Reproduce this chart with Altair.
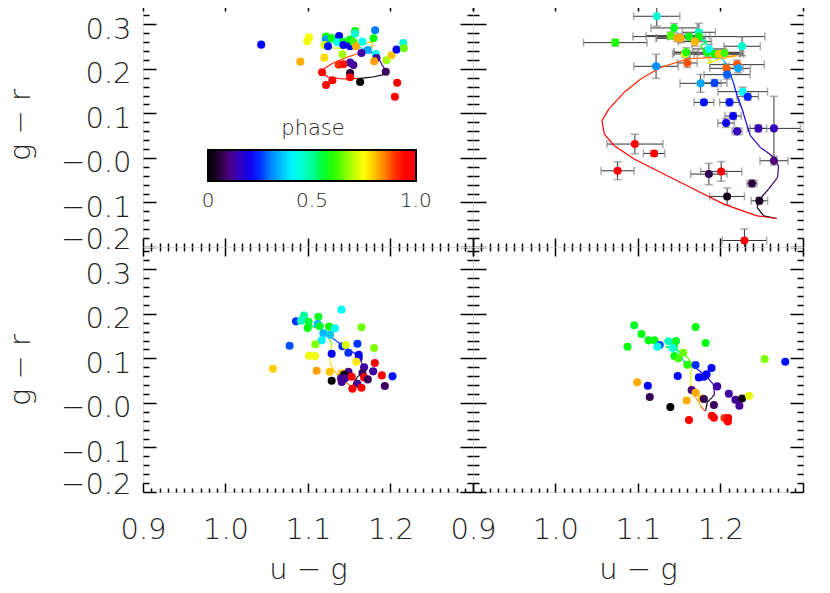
import altair as alt
import pandas as pd

# ---------------- data ----------------
# top-left panel (u-g, g-r, phase)
tl_x = [1.0433, 1.1012, 1.0992, 1.0907, 1.1219, 1.1219, 1.1287, 1.1377, 1.1202, 1.1243, 1.1356, 1.1429,
        1.1429, 1.1510, 1.1510, 1.1571, 1.1571, 1.1550, 1.1583, 1.1660, 1.1814, 1.1794, 1.1725, 1.1648,
        1.1822, 1.1830, 1.1802, 1.1417, 1.1198, 1.1510, 1.1550, 1.1372, 1.1429, 1.1170, 1.1510, 1.1510,
        1.1296, 1.1219, 1.1632, 1.1943, 1.1951, 1.2012, 1.2073, 1.2154, 1.2162, 1.2081, 1.2053]
tl_y = [0.2543, 0.2708, 0.2618, 0.2161, 0.2723, 0.2655, 0.2693, 0.2738, 0.2536, 0.2506, 0.2596, 0.2610,
        0.2536, 0.2655, 0.2506, 0.2850, 0.2790, 0.2600, 0.2506, 0.2610, 0.2865, 0.2685, 0.2423, 0.2356,
        0.2333, 0.2243, 0.2169, 0.2326, 0.2251, 0.2139, 0.2086, 0.2094, 0.2101, 0.1921, 0.1906, 0.1809,
        0.1742, 0.1637, 0.1704, 0.1936, 0.2191, 0.2303, 0.2431, 0.2581, 0.2461, 0.1689, 0.1375]
tl_ph = [0.22, 0.75, 0.74, 0.82, 0.58, 0.32, 0.57, 0.22, 0.72, 0.23, 0.42, 0.55,
         0.22, 0.58, 0.22, 0.58, 0.45, 0.62, 0.82, 0.42, 0.30, 0.57, 0.33, 0.13,
         0.42, 0.12, 0.83, 0.68, 0.78, 0.13, 0.12, 0.90, 0.92, 0.95, 0.05, 0.95,
         0.95, 0.95, 0.00, 0.08, 0.68, 0.80, 0.22, 0.45, 0.65, 0.95, 0.95]

tl_cx = [1.1628, 1.1789, 1.1931, 1.1951, 1.1903, 1.1862, 1.1810, 1.1749, 1.1700, 1.1648, 1.1587, 1.1547,
         1.1385, 1.1243, 1.1202, 1.1283, 1.1425, 1.1547, 1.1668, 1.1769, 1.1789, 1.1749, 1.1628, 1.1466,
         1.1304, 1.1202, 1.1174, 1.1243, 1.1425, 1.1628]
tl_cy = [0.1787, 0.1816, 0.1876, 0.1936, 0.2071, 0.2221, 0.2311, 0.2386, 0.2431, 0.2461, 0.2536, 0.2581,
         0.2610, 0.2596, 0.2521, 0.2468, 0.2461, 0.2506, 0.2558, 0.2610, 0.2521, 0.2431, 0.2356, 0.2258,
         0.2131, 0.2011, 0.1906, 0.1816, 0.1772, 0.1787]
tl_cph = [0.00, 0.04, 0.08, 0.10, 0.12, 0.15, 0.20, 0.27, 0.35, 0.42, 0.48, 0.52,
          0.56, 0.60, 0.66, 0.70, 0.73, 0.76, 0.79, 0.81, 0.83, 0.85, 0.87, 0.89,
          0.91, 0.93, 0.95, 0.97, 0.985, 1.00]

# top-right panel with error bars
tr_x = [1.1227, 1.1437, 1.1396, 1.1477, 1.1517, 1.1618, 1.1738, 1.1738, 1.1690, 1.0724, 1.2262, 1.1569,
        1.1586, 1.1839, 1.1859, 1.1932, 1.1980, 1.2048, 1.1598, 1.1219, 1.2072, 1.2201, 1.2213, 1.2080,
        1.1759, 1.1928, 1.2270, 1.2330, 1.1799, 1.2109, 1.2153, 1.2068, 1.2201, 1.2459, 1.2648, 1.2648,
        1.0962, 1.1195, 1.0753, 1.1859, 1.2008, 1.2382, 1.2080, 1.2471, 1.2290]
tr_y = [0.3180, 0.2918, 0.2745, 0.2693, 0.2685, 0.2723, 0.2820, 0.2723, 0.2610, 0.2588, 0.2506, 0.2333,
        0.2371, 0.2371, 0.2446, 0.2333, 0.2333, 0.2356, 0.2131, 0.2056, 0.2011, 0.2094, 0.2011, 0.1869,
        0.1674, 0.1682, 0.1487, 0.1375, 0.1247, 0.1247, 0.0940, 0.0783, 0.0596, 0.0663, 0.0663, -0.0064,
        0.0311, 0.0101, -0.0289, -0.0363, -0.0303, -0.0573, -0.0865, -0.0963, -0.1854]
tr_xerr = [0.028, 0.028, 0.030, 0.025, 0.030, 0.025, 0.020, 0.080, 0.020, 0.0385, 0.022, 0.015,
           0.015, 0.040, 0.020, 0.030, 0.030, 0.020, 0.012, 0.027, 0.020, 0.033, 0.015, 0.028,
           0.025, 0.015, 0.030, 0.013, 0.012, 0.012, 0.010, 0.010, 0.006, 0.010, 0.032, 0.017,
           0.034, 0.013, 0.020, 0.022, 0.025, 0.006, 0.021, 0.010, 0.027]
tr_yerr = [0.022, 0.010, 0.008, 0.008, 0.010, 0.008, 0.020, 0.010, 0.010, 0.0075, 0.021, 0.007,
           0.010, 0.010, 0.010, 0.008, 0.010, 0.008, 0.010, 0.027, 0.010, 0.010, 0.010, 0.010,
           0.020, 0.008, 0.010, 0.008, 0.006, 0.008, 0.008, 0.010, 0.008, 0.008, 0.072, 0.010,
           0.022, 0.006, 0.020, 0.024, 0.022, 0.008, 0.019, 0.008, 0.026]
tr_ph = [0.45, 0.56, 0.63, 0.82, 0.82, 0.57, 0.46, 0.57, 0.81, 0.60, 0.45, 0.72,
         0.60, 0.58, 0.42, 0.58, 0.80, 0.62, 0.88, 0.31, 0.87, 0.88, 0.33, 0.28,
         0.33, 0.26, 0.42, 0.24, 0.23, 0.23, 0.21, 0.20, 0.15, 0.14, 0.15, 0.10,
         0.95, 0.94, 0.95, 0.07, 0.95, 0.06, 0.03, 0.04, 0.96]

tr_cx = [1.2684, 1.2523, 1.2443, 1.2475, 1.2583, 1.2692, 1.2704, 1.2624, 1.2483, 1.2362, 1.2322, 1.2262,
         1.2201, 1.2161, 1.2121, 1.2089, 1.2040, 1.1980, 1.1899, 1.1799, 1.1759, 1.1839, 1.1759, 1.1799,
         1.1839, 1.1899, 1.1839, 1.2000, 1.2201, 1.1919, 1.1598, 1.1276, 1.1034, 1.0833, 1.0652, 1.0563,
         1.0592, 1.0712, 1.0954, 1.1276, 1.1638, 1.2040, 1.2443, 1.2684]
tr_cy = [-0.1360, -0.1300, -0.1112, -0.0925, -0.0700, -0.0438, -0.0176, 0.0049, 0.0236, 0.0498, 0.0723, 0.1097,
         0.1397, 0.1659, 0.1884, 0.2034, 0.2184, 0.2296, 0.2446, 0.2610, 0.2685, 0.2610, 0.2521, 0.2371,
         0.2258, 0.2146, 0.2124, 0.2221, 0.2296, 0.2258, 0.2221, 0.2034, 0.1772, 0.1472, 0.1112, 0.0835,
         0.0536, 0.0273, -0.0026, -0.0326, -0.0663, -0.1037, -0.1300, -0.1360]
tr_cph = [0.00, 0.02, 0.04, 0.06, 0.08, 0.10, 0.12, 0.13, 0.15, 0.17, 0.19, 0.21,
          0.23, 0.25, 0.28, 0.32, 0.36, 0.40, 0.44, 0.48, 0.52, 0.56, 0.60, 0.64,
          0.68, 0.72, 0.76, 0.80, 0.84, 0.86, 0.88, 0.90, 0.91, 0.92, 0.93, 0.94,
          0.95, 0.96, 0.97, 0.98, 0.985, 0.99, 0.995, 1.00]

# bottom-left panel
bl_x = [1.1405, 1.0951, 1.0854, 1.0915, 1.1008, 1.1126, 1.1117, 1.1142, 1.0996, 1.1255, 1.1328, 1.1648,
        1.1186, 1.1267, 1.1166, 1.1089, 1.0777, 1.1599, 1.1417, 1.1457, 1.1802, 1.1490, 1.1287, 1.1615,
        1.1615, 1.1012, 1.1085, 1.1587, 1.1680, 1.1810, 1.0575, 1.1105, 1.1263, 1.1409, 1.1490, 1.1437,
        1.1660, 1.1790, 1.1895, 1.2024, 1.1401, 1.1449, 1.1530, 1.1680, 1.1725, 1.1287, 1.1409, 1.1599,
        1.1538, 1.1648, 1.1931]
bl_y = [0.2094, 0.1959, 0.1831, 0.1846, 0.1824, 0.1936, 0.1772, 0.1719, 0.1682, 0.1712, 0.1674, 0.1697,
        0.1562, 0.1532, 0.1404, 0.1315, 0.1285, 0.1330, 0.1270, 0.1300, 0.1232, 0.1127, 0.1105, 0.1082,
        0.1000, 0.1060, 0.1052, 0.0925, 0.0798, 0.0895, 0.0768, 0.0723, 0.0700, 0.0663, 0.0700, 0.0633,
        0.0670, 0.0708, 0.0618, 0.0596, 0.0551, 0.0551, 0.0588, 0.0573, 0.0528, 0.0498, 0.0468, 0.0431,
        0.0318, 0.0341, 0.0378]
bl_ph = [0.42, 0.50, 0.25, 0.47, 0.55, 0.56, 0.35, 0.56, 0.57, 0.58, 0.42, 0.65,
         0.35, 0.36, 0.40, 0.66, 0.27, 0.25, 0.25, 0.72, 0.66, 0.25, 0.22, 0.22,
         0.20, 0.74, 0.74, 0.77, 0.13, 0.94, 0.79, 0.83, 0.80, 0.80, 0.10, 0.00,
         0.08, 0.13, 0.95, 0.23, 0.12, 0.12, 0.93, 0.95, 0.08, 0.00, 0.12, 0.12,
         0.95, 0.95, 0.08]

bl_cx = [1.1547, 1.1595, 1.1648, 1.1668, 1.1648, 1.1607, 1.1486, 1.1364, 1.1283, 1.1202, 1.1101, 1.1000,
         1.1061, 1.1162, 1.1243, 1.1287, 1.1263, 1.1271, 1.1344, 1.1445, 1.1526, 1.1547, 1.1547]
bl_cy = [0.0423, 0.0573, 0.0663, 0.0760, 0.0910, 0.1060, 0.1210, 0.1360, 0.1472, 0.1584, 0.1697, 0.1757,
         0.1712, 0.1644, 0.1509, 0.1322, 0.1097, 0.0873, 0.0648, 0.0483, 0.0363, 0.0348, 0.0423]
bl_cph = [0.00, 0.04, 0.08, 0.12, 0.15, 0.18, 0.22, 0.27, 0.33, 0.40, 0.46, 0.52,
          0.56, 0.60, 0.65, 0.70, 0.74, 0.78, 0.82, 0.86, 0.90, 0.95, 1.00]

# bottom-right panel
br_x = [1.0954, 1.1042, 1.1127, 1.1199, 1.1698, 1.0873, 1.1368, 1.1461, 1.1264, 1.1235, 1.1437, 1.1421,
        1.1819, 1.1549, 1.1441, 1.1489, 1.1598, 1.1698, 1.2535, 1.2785, 1.1891, 1.1738, 1.1799, 1.1831,
        1.1481, 1.0990, 1.1119, 1.1960, 1.1650, 1.1698, 1.2101, 1.1143, 1.1590, 1.1779, 1.1799, 1.2181,
        1.2262, 1.2346, 1.2229, 1.1920, 1.1392, 1.1618, 1.1895, 1.1920, 1.2048, 1.2093, 1.2089]
br_y = [0.1742, 0.1547, 0.1404, 0.1404, 0.1704, 0.1262, 0.1382, 0.1390, 0.1300, 0.1262, 0.1262, 0.1232,
        0.1345, 0.1127, 0.1052, 0.1000, 0.0858, 0.0850, 0.0985, 0.0925, 0.0783, 0.0573, 0.0588, 0.0640,
        0.0603, 0.0461, 0.0386, 0.0371, 0.0288, 0.0228, 0.0206, 0.0131, 0.0056, 0.0101, 0.0086, 0.0071,
        0.0101, 0.0161, -0.0064, -0.0049, -0.0094, -0.0386, -0.0289, -0.0333, -0.0341, -0.0341, -0.0416]
br_ph = [0.56, 0.57, 0.57, 0.57, 0.57, 0.57, 0.47, 0.56, 0.27, 0.42, 0.56, 0.44,
         0.57, 0.65, 0.57, 0.62, 0.60, 0.25, 0.66, 0.23, 0.22, 0.22, 0.22, 0.22,
         0.22, 0.82, 0.22, 0.13, 0.10, 0.82, 0.13, 0.07, 0.82, 0.82, 0.07, 0.12,
         0.02, 0.73, 0.12, 0.08, 0.00, 0.95, 0.93, 0.95, 0.90, 0.95, 0.95]

br_cx = [1.1819, 1.1839, 1.1899, 1.1928, 1.1911, 1.1839, 1.1718, 1.1618, 1.1549, 1.1517, 1.1457, 1.1396,
         1.1336, 1.1497, 1.1598, 1.1658, 1.1638, 1.1638, 1.1686, 1.1759, 1.1807, 1.1819]
br_cy = [-0.0176, 0.0011, 0.0124, 0.0199, 0.0423, 0.0573, 0.0760, 0.0873, 0.0948, 0.1097, 0.1210, 0.1247,
         0.1262, 0.1172, 0.1022, 0.0858, 0.0648, 0.0423, 0.0161, -0.0064, -0.0176, -0.0176]
br_cph = [0.00, 0.04, 0.08, 0.11, 0.15, 0.20, 0.25, 0.30, 0.36, 0.40, 0.46, 0.52,
          0.56, 0.60, 0.65, 0.70, 0.74, 0.78, 0.83, 0.88, 0.94, 1.00]

# colour table (phase -> colour); the bar's ends sit a hair outside 0 and 1
PH_STOPS = [-0.001, 0.04, 0.10, 0.16, 0.22, 0.31, 0.41, 0.50, 0.58, 0.68, 0.75, 0.83, 0.89, 0.93, 1.001]
PH_COLS = ['#000000', '#1c0026', '#4a0080', '#3300cc', '#0000ff', '#0090ff', '#00ffff', '#00ff99',
           '#00ff00', '#a0ff00', '#ffff00', '#ffa000', '#ff4000', '#ff0000', '#ff0000']
# same table for the model curves
CURVE_STOPS = [0.0, 0.04, 0.10, 0.16, 0.22, 0.31, 0.41, 0.50, 0.58, 0.68, 0.75, 0.83, 0.89, 0.93, 1.0]
CURVE_COLS = PH_COLS

# axis ticks / labels
X_DOM = [0.9, 1.3]
Y_DOM = [-0.2, 0.35]
X_LABELS = [0.9, 1.0, 1.1, 1.2]
Y_LABELS = [-0.2, -0.1, 0.0, 0.1, 0.2, 0.3]
X_TICKS = [round(0.9 + 0.01 * i, 2) for i in range(41)]
Y_TICKS = [round(-0.2 + 0.02 * i, 2) for i in range(28)]
LEGEND_LABELS = [0.0, 0.5, 1.0]

# ---------------- chart ----------------
W, H = 330, 245
FONT = "DejaVu Sans"
TXT = "#222222"
FW = 200

xs = alt.Scale(domain=X_DOM, nice=False, zero=False)
ys = alt.Scale(domain=Y_DOM, nice=False, zero=False)
fs = alt.Scale(domain=PH_STOPS, range=PH_COLS, interpolate="rgb")
ss = alt.Scale(domain=CURVE_STOPS, range=CURVE_COLS, interpolate="rgb")

MAJOR = "abs(datum.value*10 - round(datum.value*10)) < 0.001"

legend = alt.Legend(
    type="gradient", orient="none", legendX=65, legendY=116, direction="horizontal",
    gradientLength=208, gradientThickness=31, title="phase", titleOrient="top",
    titleAnchor="middle", titleFont=FONT, titleFontSize=21, titleFontWeight=FW, titleColor=TXT,
    titlePadding=11, labelFont=FONT, labelFontSize=20, labelFontWeight=FW, labelColor=TXT,
    values=LEGEND_LABELS, labelExpr="datum.value == 0 ? '0' : format(datum.value, '.1f')",
    labelOverlap=False, labelOffset=10,
    gradientStrokeColor="black", gradientStrokeWidth=2, padding=0, zindex=5,
)
fill_enc = alt.Fill("phase:Q", scale=fs, legend=legend)
stroke_enc = alt.Stroke("phase:Q", scale=ss, legend=None)


def tick_axis(orient, offset, values, major, minor):
    return alt.Axis(orient=orient, offset=offset, values=values, labels=False, domain=False,
                    title=None, grid=False, ticks=True, tickColor="black", tickWidth=1.5,
                    tickSize={"condition": {"test": MAJOR, "value": major}, "value": minor})


YLAB = ("datum.value < -0.001 ? '\u2212' + format(-datum.value, '.1f') : "
        "(abs(datum.value) < 0.001 ? '\u22120.0' : format(datum.value, '.1f'))")


def xlabel_axis():
    return alt.Axis(orient="bottom", values=X_LABELS, format=".1f", ticks=False, domain=False, grid=False,
                    labelFontSize=29, labelFont=FONT, labelFontWeight=FW, labelColor=TXT, labelPadding=23,
                    labelFlush=False, labelOverlap=False,
                    title="u \u2212 g", titleFont=FONT, titleFontSize=29, titleFontWeight=FW, titleColor=TXT,
                    titlePadding=13, minExtent=50, maxExtent=50)


def ylabel_axis():
    return alt.Axis(orient="left", values=Y_LABELS, labelExpr=YLAB, ticks=False, domain=False, grid=False,
                    labelFontSize=29, labelFont=FONT, labelFontWeight=FW, labelColor=TXT, labelPadding=12,
                    labelOverlap=False, labelFlush=False,
                    labelOffset={"condition": {"test": "datum.value < -0.15", "value": -8}, "value": 5},
                    title="g \u2212 r", titleFont=FONT, titleFontSize=29, titleFontWeight=FW, titleColor=TXT,
                    titlePadding=8, minExtent=100, maxExtent=100)


def panel(px, py, pph, cx, cy, cph, left, bottom, errs=None):
    pts = pd.DataFrame({"x": px, "y": py, "phase": pph})
    seg = pd.DataFrame({"x": cx[:-1], "y": cy[:-1], "x2": cx[1:], "y2": cy[1:], "phase": cph[:-1]})
    base = alt.Chart(pts)
    host_a = base.mark_point(opacity=0).encode(
        x=alt.X("x:Q", scale=xs, axis=xlabel_axis() if bottom else None),
        y=alt.Y("y:Q", scale=ys, axis=ylabel_axis() if left else None),
    )
    host_b = base.mark_point(opacity=0).encode(
        x=alt.X("x:Q", scale=xs, axis=tick_axis("top", -H, X_TICKS, 9, 4)),
        y=alt.Y("y:Q", scale=ys, axis=tick_axis("right", -W, Y_TICKS, 13, 6)),
    )
    host_c = base.mark_point(opacity=0).encode(
        x=alt.X("x:Q", scale=xs, axis=tick_axis("bottom", -H, X_TICKS, 9, 4)),
        y=alt.Y("y:Q", scale=ys, axis=tick_axis("left", -W, Y_TICKS, 13, 6)),
    )
    layers = [host_a, host_b, host_c]
    if errs is not None:
        xerr, yerr = errs
        e = pts.copy()
        e["xlo"] = [a - b for a, b in zip(px, xerr)]
        e["xhi"] = [a + b for a, b in zip(px, xerr)]
        e["ylo"] = [a - b for a, b in zip(py, yerr)]
        e["yhi"] = [a + b for a, b in zip(py, yerr)]
        eb = alt.Chart(e)
        layers += [
            eb.mark_rule(color="#333333", strokeWidth=1, clip=True).encode(
                x=alt.X("xlo:Q", scale=xs, axis=None), x2="xhi:Q", y=alt.Y("y:Q", scale=ys, axis=None)),
            eb.mark_rule(color="#333333", strokeWidth=1, clip=True).encode(
                x=alt.X("x:Q", scale=xs, axis=None), y=alt.Y("ylo:Q", scale=ys, axis=None), y2="yhi:Q"),
            eb.mark_tick(color="#888888", orient="vertical", size=8, thickness=1.5, clip=True).encode(
                x=alt.X("xlo:Q", scale=xs, axis=None), y=alt.Y("y:Q", scale=ys, axis=None)),
            eb.mark_tick(color="#888888", orient="vertical", size=8, thickness=1.5, clip=True).encode(
                x=alt.X("xhi:Q", scale=xs, axis=None), y=alt.Y("y:Q", scale=ys, axis=None)),
            eb.mark_tick(color="#888888", orient="horizontal", size=8, thickness=1.5, clip=True).encode(
                x=alt.X("x:Q", scale=xs, axis=None), y=alt.Y("ylo:Q", scale=ys, axis=None)),
            eb.mark_tick(color="#888888", orient="horizontal", size=8, thickness=1.5, clip=True).encode(
                x=alt.X("x:Q", scale=xs, axis=None), y=alt.Y("yhi:Q", scale=ys, axis=None)),
        ]
    layers.append(alt.Chart(seg).mark_rule(strokeWidth=1.2, clip=True).encode(
        x=alt.X("x:Q", scale=xs, axis=None), y=alt.Y("y:Q", scale=ys, axis=None),
        x2="x2:Q", y2="y2:Q", stroke=stroke_enc))
    layers.append(base.mark_circle(size=65, opacity=1, clip=True).encode(
        x=alt.X("x:Q", scale=xs, axis=None), y=alt.Y("y:Q", scale=ys, axis=None), fill=fill_enc))
    return alt.layer(*layers).resolve_axis(x="independent", y="independent").properties(width=W, height=H)


p00 = panel(tl_x, tl_y, tl_ph, tl_cx, tl_cy, tl_cph, True, False)
p01 = panel(tr_x, tr_y, tr_ph, tr_cx, tr_cy, tr_cph, False, False, errs=(tr_xerr, tr_yerr))
p10 = panel(bl_x, bl_y, bl_ph, bl_cx, bl_cy, bl_cph, True, True)
p11 = panel(br_x, br_y, br_ph, br_cx, br_cy, br_cph, False, True)

chart = alt.concat(
    p00, p01, p10, p11, columns=2, spacing=0, bounds="flush",
).resolve_scale(fill="shared", stroke="shared").properties(
    padding={"left": -3, "top": -8, "right": 5, "bottom": 2}
).configure_view(stroke="black", strokeWidth=2).configure(background="white")

chart.save("out.html", embed_options={"renderer": "svg", "actions": False})
